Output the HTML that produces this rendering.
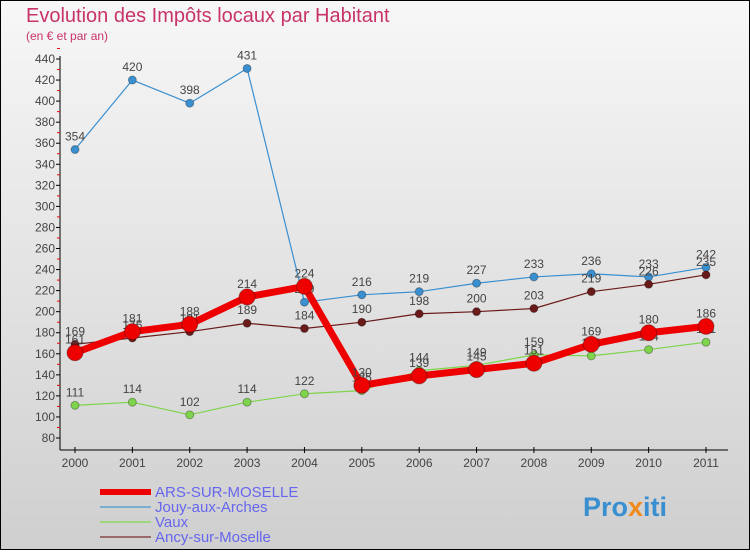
<!DOCTYPE html>
<html><head><meta charset="utf-8"><style>
body{margin:0}
#c{width:750px;height:550px;position:relative;font-family:"Liberation Sans",sans-serif}
svg text{font-family:"Liberation Sans",sans-serif}
</style></head><body>
<div id="c">
<svg id="s" width="750" height="550">
<defs><linearGradient id="bg" x1="0" y1="0" x2="0" y2="1"><stop offset="0" stop-color="#f7f7f7"/><stop offset="1" stop-color="#cfcfcf"/></linearGradient></defs>
<rect x="0.5" y="0.5" width="749" height="549" fill="url(#bg)" stroke="#000"/>
<text x="26" y="22" font-size="20" fill="#c8336a">Evolution des Impôts locaux par Habitant</text>
<text x="26" y="40" font-size="12" fill="#c8336a">(en € et par an)</text>
<g id="axes"></g><g id="series"></g><g id="legend"></g>
<text x="583" y="516" font-size="27" font-weight="bold" fill="#3a8fd0">Pro<tspan fill="#f08a1c">x</tspan>iti</text>
</svg></div>
<script>
const years=[2000,2001,2002,2003,2004,2005,2006,2007,2008,2009,2010,2011];
const ars=[161,181,188,214,224,130,139,145,151,169,180,186];
const jouy=[354,420,398,431,209,216,219,227,233,236,233,242];
const vaux=[111,114,102,114,122,125,144,149,159,158,164,171];
const ancy=[169,175,181,189,184,190,198,200,203,219,226,235];
const yTicks=[80,100,120,140,160,180,200,220,240,260,280,300,320,340,360,380,400,420,440];
const NS="http://www.w3.org/2000/svg";
function X(i){return 75+i*(706-75)/11}
function Y(v){return 438-(v-80)*(438-59)/360}
function mk(t,a,p){const e=document.createElementNS(NS,t);for(const k in a)e.setAttribute(k,a[k]);p.appendChild(e);return e}
const ax=document.getElementById('axes');
let yl=mk('line',{x1:60,y1:56,x2:60,y2:450,stroke:'#000'},ax);


let xl=mk('line',{x1:60,y1:450,x2:728,y2:450,stroke:'#000'},ax);


yTicks.forEach(v=>{
 mk('line',{x1:56,y1:Y(v),x2:60,y2:Y(v),stroke:'#000'},ax);
 mk('line',{x1:57,y1:Y(v+10),x2:60,y2:Y(v+10),stroke:'#e00'},ax);
 const t=mk('text',{x:55,y:Y(v)+4,'font-size':12,'text-anchor':'end',fill:'#444'},ax);t.textContent=v;
 
 
});
years.forEach((y,i)=>{
 mk('line',{x1:X(i),y1:447,x2:X(i),y2:453,stroke:'#000'},ax);
 const t=mk('text',{x:X(i),y:467,'font-size':12,'text-anchor':'middle',fill:'#444'},ax);t.textContent=y;
 
 
});
const sg=document.getElementById('series');
function series(data,color,w,r,name){
 const g=mk('g',{},sg);
 
 
 mk('polyline',{points:data.map((v,i)=>X(i)+','+Y(v)).join(' '),fill:'none',stroke:color,'stroke-width':w,'stroke-linejoin':'round'},g);
 data.forEach((v,i)=>{
  const c=mk('circle',{cx:X(i),cy:Y(v),r:r,fill:color,stroke:'rgba(0,0,0,0.3)','stroke-width':1},g);
  
  
  const t=mk('text',{x:X(i),y:Y(v)-9,'font-size':12,'text-anchor':'middle',fill:'#444'},g);t.textContent=v;
  
  
 });
}
series(jouy,'#3a8fd0',1.2,4,'jouy-series');
series(vaux,'#7ed44a',1.2,4,'vaux-series');
series(ancy,'#6b1a1a',1.2,4,'ancy-series');
series(ars,'#ee0000',7,8,'ars-series');
const lg=document.getElementById('legend');
const items=[['ARS-SUR-MOSELLE','#ee0000',6],['Jouy-aux-Arches','#7aaed0',2],['Vaux','#9fd87a',2],['Ancy-sur-Moselle','#9a6a6a',2]];
items.forEach((it,i)=>{
 const y=492+i*15;
 const g=mk('g',{},lg);
 
 
 mk('line',{x1:100,y1:y,x2:151,y2:y,stroke:it[1],'stroke-width':it[2]},g);
 const t=mk('text',{x:155,y:y+5,'font-size':15,fill:'#6666ee'},g);t.textContent=it[0];
});
</script>
</body></html>
